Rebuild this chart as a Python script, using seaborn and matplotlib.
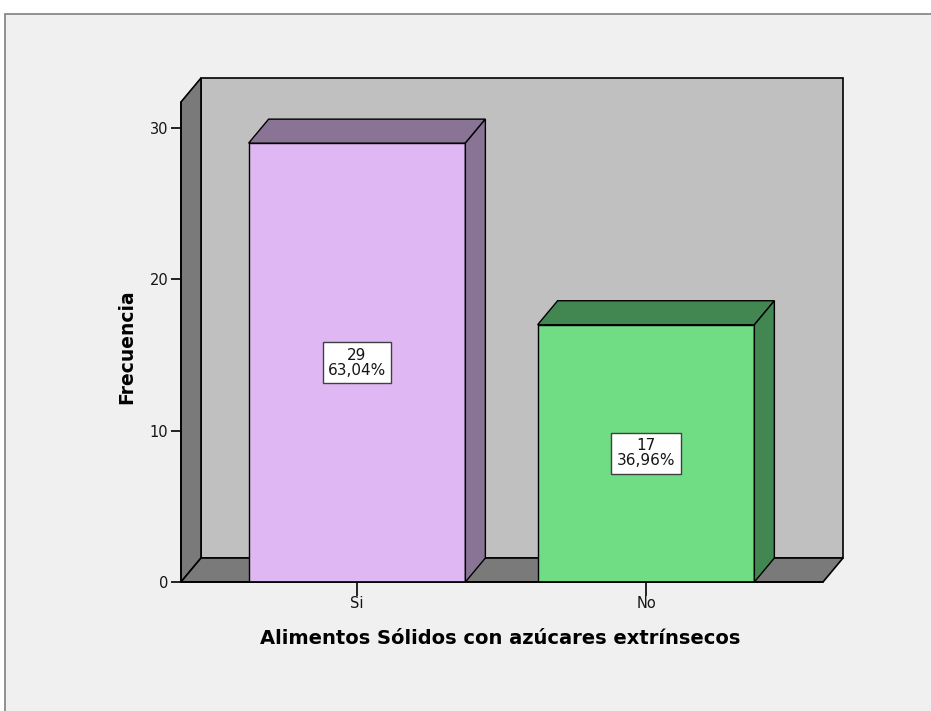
import matplotlib
matplotlib.use("Agg")
import matplotlib.pyplot as plt
import seaborn as sns
import pandas as pd
from matplotlib.patches import Polygon, Rectangle

# datos
categorias = ["Si", "No"]
frecuencias = [29, 17]
porcentajes = ["63,04%", "36,96%"]
colores_frente = ["#DFB8F3", "#70DC84"]
colores_lado = ["#8A7496", "#428652"]
ticks_y = [0, 10, 20, 30]

df = pd.DataFrame({"cat": categorias, "frec": frecuencias})

sns.set_style("white")
plt.rcParams["font.family"] = ["DejaVu Sans"]

W, H = 931, 711
fig = plt.figure(figsize=(W / 100, H / 100), dpi=100)
fig.patch.set_facecolor("white")
fig.add_artist(Rectangle((5 / W, -0.01), 1.0, (H - 14) / H + 0.01,
                         transform=fig.transFigure, facecolor="#F0F0F0",
                         edgecolor="#808080", lw=1.2, zorder=-10))

# ejes: de x=181 a 843 px, de y=78 a 582 px
ax = fig.add_axes([181 / W, (H - 582) / H, (843 - 181) / W, (582 - 78) / H])
ax.set_facecolor("none")

px_x = 289.0          # pixeles por categoria
px_y = 454.0 / 30     # pixeles por unidad
x_min, x_max = -(357 - 181) / px_x, (843 - 357) / px_x
y_max = (582 - 78) / px_y
dx, dy = 20 / px_x, 24 / px_y
ancho = 0.75

# paredes 3D
pared = Rectangle((x_min + dx, dy), x_max - x_min - dx, y_max - dy,
                  facecolor="#C0C0C0", edgecolor="black", lw=1.2, zorder=0, clip_on=False)
ax.add_patch(pared)
lado_izq = Polygon([(x_min, 0), (x_min + dx, dy), (x_min + dx, y_max), (x_min, y_max - dy)],
                   facecolor="#7A7A7A", edgecolor="black", lw=1.2, zorder=0.5, clip_on=False)
ax.add_patch(lado_izq)
piso = Polygon([(x_min, 0), (x_min + dx, dy), (x_max, dy), (x_max - dx, 0)],
               facecolor="#7A7A7A", edgecolor="black", lw=1.2, zorder=0.5, clip_on=False)
ax.add_patch(piso)

sns.barplot(data=df, x="cat", y="frec", hue="cat", palette=colores_frente,
            saturation=1, width=ancho, edgecolor="black", linewidth=1.0,
            legend=False, ax=ax, zorder=3)

for i, (v, p) in enumerate(zip(frecuencias, porcentajes)):
    x0, x1 = i - ancho / 2, i + ancho / 2
    tapa = Polygon([(x0, v), (x0 + dx, v + dy), (x1 + dx, v + dy), (x1, v)],
                   facecolor=colores_lado[i], edgecolor="black", lw=1.0, zorder=3)
    lado = Polygon([(x1, 0), (x1 + dx, dy), (x1 + dx, v + dy), (x1, v)],
                   facecolor=colores_lado[i], edgecolor="black", lw=1.0, zorder=3)
    ax.add_patch(tapa)
    ax.add_patch(lado)
    ax.text(i, v / 2, f"{v}\n{p}", ha="center", va="center", fontsize=11,
            linespacing=1.0, color="#151515", zorder=5,
            bbox=dict(boxstyle="square,pad=0.35", fc="white", ec="#404040", lw=1))

# ejes frontales
ax.plot([x_min, x_min], [0, y_max - dy], color="black", lw=1.2, zorder=4, clip_on=False)
ax.plot([x_min, x_max - dx], [0, 0], color="black", lw=1.2, zorder=4, clip_on=False)

ax.set_xlim(x_min, x_max)
ax.set_ylim(0, y_max)
for s in ax.spines.values():
    s.set_visible(False)

ax.set_yticks(ticks_y)
ax.tick_params(axis="y", left=True, length=7, width=1.2, color="black",
               labelsize=10.5, pad=2, labelcolor="#151515")
ax.tick_params(axis="x", bottom=True, length=10, width=1.2, color="black",
               labelsize=10.5, pad=0, labelcolor="#151515")

ax.set_xlabel("Alimentos Sólidos con azúcares extrínsecos", fontsize=14,
              fontweight="bold", labelpad=13, color="black")
ax.set_ylabel("Frecuencia", fontsize=13.5, fontweight="bold", labelpad=10,
              color="black")
ax.xaxis.label.set_x(0.482)
ax.yaxis.label.set_y(0.466)

fig.savefig("out.png", dpi=100, facecolor=fig.get_facecolor())
